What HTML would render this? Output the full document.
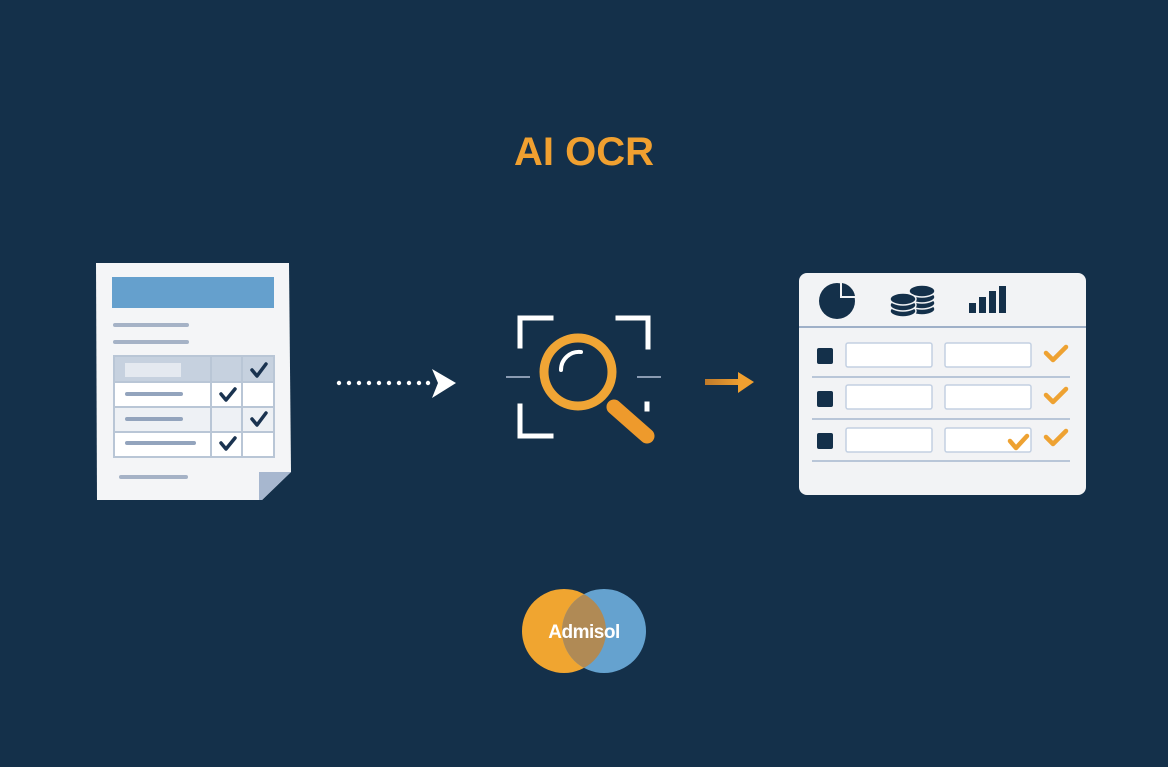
<!DOCTYPE html>
<html><head><style>html,body{margin:0;padding:0;background:#14304a;}svg{display:block}</style></head>
<body>
<svg width="1168" height="767" viewBox="0 0 1168 767" xmlns="http://www.w3.org/2000/svg">
<rect width="1168" height="767" fill="#14304a"/>
<text x="584" y="165" text-anchor="middle" font-family="Liberation Sans, sans-serif" font-weight="bold" font-size="40" fill="#f0a030">AI OCR</text>

<polygon points="96,263 289,263 291,472 262,500 97,500" fill="#f4f5f7"/>
<polygon points="259,472 291,472 262,500 259,500" fill="#a7b7cf"/>
<rect x="112" y="277" width="162" height="31" fill="#65a0cd"/>
<g stroke="#a5b2c6" stroke-width="4" stroke-linecap="round">
<line x1="115" y1="325" x2="187" y2="325"/><line x1="115" y1="342" x2="187" y2="342"/>
<line x1="121" y1="477" x2="186" y2="477"/></g>
<rect x="114" y="356" width="160" height="101" fill="#fff" stroke="#b9c6d6" stroke-width="2"/>
<rect x="115" y="357" width="158" height="25" fill="#c6d1df"/>
<rect x="115" y="407" width="158" height="25" fill="#eef1f5"/>
<rect x="125" y="363" width="56" height="14" fill="#e4e9f0"/>
<g stroke="#b9c6d6" stroke-width="2"><line x1="114" y1="382" x2="274" y2="382"/><line x1="114" y1="407" x2="274" y2="407"/><line x1="114" y1="432" x2="274" y2="432"/><line x1="211" y1="356" x2="211" y2="457"/><line x1="242" y1="356" x2="242" y2="457"/></g>
<g stroke="#93a4bd" stroke-width="4" stroke-linecap="round"><line x1="127" y1="394" x2="181" y2="394"/><line x1="127" y1="419" x2="181" y2="419"/><line x1="127" y1="443" x2="194" y2="443"/></g>
<g stroke="#1a3350" stroke-width="3.5" fill="none" stroke-linecap="round" stroke-linejoin="round">
<polyline points="252,370 257,376 266,364"/><polyline points="221,394 226,400 235,389"/><polyline points="252,419 257,425 266,413"/><polyline points="221,443 226,449 235,438"/></g>

<g fill="#fff"><circle cx="339" cy="383" r="2.2"/><circle cx="349" cy="383" r="2.2"/><circle cx="359" cy="383" r="2.2"/><circle cx="369" cy="383" r="2.2"/><circle cx="379" cy="383" r="2.2"/><circle cx="389" cy="383" r="2.2"/><circle cx="399" cy="383" r="2.2"/><circle cx="409" cy="383" r="2.2"/><circle cx="419" cy="383" r="2.2"/><circle cx="428" cy="383" r="2.2"/>
<polygon points="432,369 456,383 432,398 438,383"/></g>

<g stroke="#fff" stroke-width="5" fill="none" stroke-linecap="square">
<polyline points="520,346 520,318 551,318"/><polyline points="618,318 648,318 648,347"/><polyline points="520,406 520,436 551,436"/><line x1="647" y1="404" x2="647" y2="409"/></g>
<g stroke="#8a9bb2" stroke-width="2"><line x1="506" y1="377" x2="530" y2="377"/><line x1="637" y1="377" x2="661" y2="377"/></g>
<line x1="614" y1="407" x2="647" y2="436" stroke="#ee9a2c" stroke-width="15" stroke-linecap="round"/>
<circle cx="578" cy="372" r="34" fill="#14304a" stroke="#f0a535" stroke-width="9"/>
<path d="M561,370 A18,18 0 0 1 581,352" stroke="#fff" stroke-width="4" fill="none" stroke-linecap="round"/>

<defs><linearGradient id="g" x1="0" x2="1"><stop offset="0" stop-color="#c07a2a"/><stop offset="1" stop-color="#f0a030"/></linearGradient></defs>
<rect x="705" y="379" width="36" height="6" fill="url(#g)"/>
<polygon points="738,372 754,382 738,393" fill="#f0a030"/>

<rect x="799" y="273" width="287" height="222" rx="8" fill="#f2f3f5"/>
<line x1="799" y1="327" x2="1086" y2="327" stroke="#9fb0c8" stroke-width="2"/>
<circle cx="837" cy="301" r="18" fill="#14304a"/>
<path d="M840,283 L840,298 L856,298 L856,281 Z" fill="#f2f3f5"/>
<path d="M842,283 A16,16 0 0 1 855,296 L842,296 Z" fill="#14304a"/>
<g fill="#14304a" stroke="#f2f3f5" stroke-width="1.5">
<ellipse cx="922" cy="309" rx="13" ry="6"/><ellipse cx="922" cy="303" rx="13" ry="6"/><ellipse cx="922" cy="297" rx="13" ry="6"/><ellipse cx="922" cy="291" rx="13" ry="6"/>
<ellipse cx="903" cy="311" rx="13" ry="6"/><ellipse cx="903" cy="305" rx="13" ry="6"/><ellipse cx="903" cy="299" rx="13" ry="6"/></g>
<g fill="#14304a"><rect x="969" y="303" width="7" height="10"/><rect x="979" y="297" width="7" height="16"/><rect x="989" y="291" width="7" height="22"/><rect x="999" y="286" width="7" height="27"/></g>
<g fill="#14304a"><rect x="817" y="348" width="16" height="16" rx="2"/><rect x="817" y="391" width="16" height="16" rx="2"/><rect x="817" y="433" width="16" height="16" rx="2"/></g>
<g fill="#fff" stroke="#c3d0e2" stroke-width="1.5">
<rect x="846" y="343" width="86" height="24" rx="2"/><rect x="945" y="343" width="86" height="24" rx="2"/>
<rect x="846" y="385" width="86" height="24" rx="2"/><rect x="945" y="385" width="86" height="24" rx="2"/>
<rect x="846" y="428" width="86" height="24" rx="2"/><rect x="945" y="428" width="86" height="24" rx="2"/></g>
<g stroke="#b9c6d8" stroke-width="2"><line x1="812" y1="377" x2="1070" y2="377"/><line x1="812" y1="419" x2="1070" y2="419"/><line x1="812" y1="461" x2="1070" y2="461"/></g>
<g stroke="#eea232" stroke-width="4.5" fill="none" stroke-linecap="round" stroke-linejoin="round">
<polyline points="1046,353 1053,360 1066,347"/><polyline points="1046,395 1053,402 1066,389"/><polyline points="1046,437 1053,444 1066,431"/><polyline points="1010,441 1016,448 1027,436"/></g>

<circle cx="564" cy="631" r="42" fill="#f0a530"/>
<circle cx="604" cy="631" r="42" fill="#65a2cf"/>
<clipPath id="c"><circle cx="564" cy="631" r="42"/></clipPath>
<circle cx="604" cy="631" r="42" fill="#b08a55" clip-path="url(#c)"/>
<text x="584" y="638" text-anchor="middle" font-family="Liberation Sans, sans-serif" font-weight="bold" font-size="19" fill="#fff" letter-spacing="-0.5">Admisol</text>
</svg>
</body></html>
